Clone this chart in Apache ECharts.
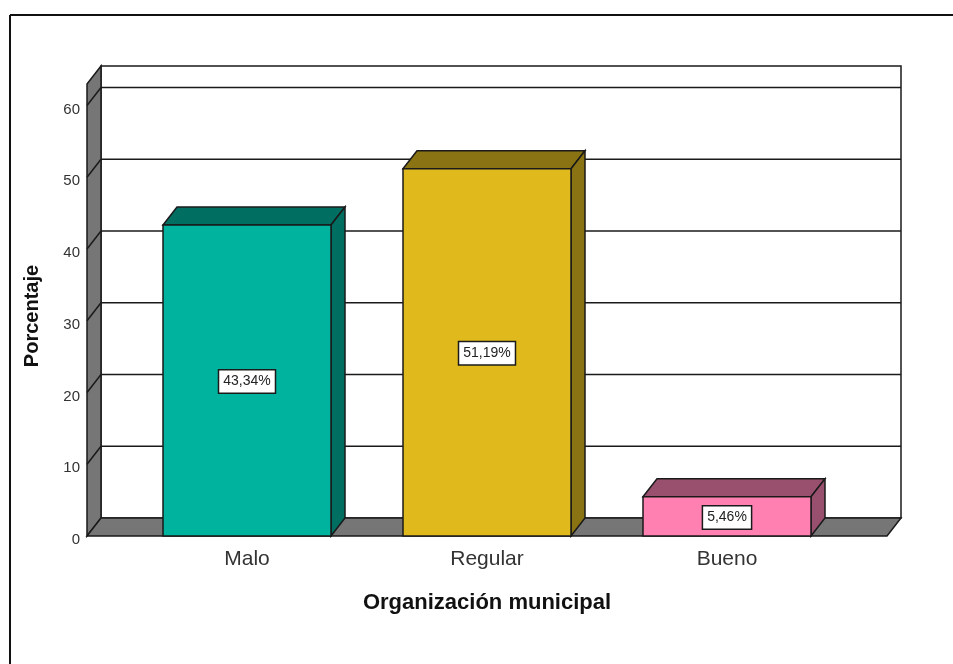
<!DOCTYPE html>
<html><head><meta charset="utf-8">
<style>html,body{margin:0;padding:0;background:#fff}#c{width:953px;height:664px}</style>
<script src="https://cdn.jsdelivr.net/npm/echarts@6/dist/echarts.min.js"></script>
</head><body><div id="c"></div>
<script>
const categories = ['Malo', 'Regular', 'Bueno'];
const values = [43.34, 51.19, 5.46];
const valueLabels = ['43,34%', '51,19%', '5,46%'];
const frontColors = ['#00B39E', '#E0BA1C', '#FF80B1'];
const darkColors = ['#006F62', '#8A7312', '#99506E'];
const yTicks = [0, 10, 20, 30, 40, 50, 60];
const yMax = 63;
const xAxisName = 'Organización municipal';
const yAxisName = 'Porcentaje';

const DX = 14, DY = 18, PAD = 40, BAR = 0.7;
const INK = '#1a1a1a', WALL = '#767676';
const chart = echarts.init(document.getElementById('c'));
const line = (x1, y1, x2, y2, w) => ({
  type: 'line', shape: {x1, y1, x2, y2},
  style: {stroke: INK, lineWidth: w || 1.5}
});
chart.setOption({
  animation: false,
  backgroundColor: '#fff',
  grid: {left: 127, right: 106, top: 84, bottom: 128},
  xAxis: {
    type: 'category', data: categories,
    axisLine: {show: false}, axisTick: {show: false},
    axisLabel: {margin: 13, fontFamily: 'Liberation Sans', fontSize: 21, color: '#333'},
    name: xAxisName, nameLocation: 'middle', nameGap: 56,
    nameTextStyle: {fontFamily: 'Liberation Sans', fontWeight: 'bold', fontSize: 22, color: '#111'}
  },
  yAxis: {
    type: 'value', min: 0, max: yMax, interval: 10,
    splitLine: {show: false}, axisLine: {show: false}, axisTick: {show: false},
    axisLabel: {margin: 47, showMaxLabel: false, fontFamily: 'Liberation Sans', fontSize: 15, color: '#333', verticalAlign: 'top', lineHeight: 8},
    name: yAxisName, nameLocation: 'middle', nameGap: 85, nameRotate: 90,
    nameTextStyle: {fontFamily: 'Liberation Sans', fontWeight: 'bold', fontSize: 20, color: '#111', padding: [0, 12, 0, 0]}
  },
  series: [
    { // walls and floor
      type: 'custom', z: 1, silent: true,
      data: [[categories[0], yMax]],
      renderItem(params, api) {
        const cs = params.coordSys;
        const x0 = cs.x - PAD, x1 = cs.x + cs.width + PAD;
        const yb = api.coord([categories[0], 0])[1], yt = api.coord([categories[0], api.value(1)])[1];
        const poly = (points, fill) => ({type: 'polygon', shape: {points}, style: {fill, stroke: INK, lineWidth: 1.5}});
        return {type: 'group', children: [
          poly([[x0 + DX, yt - DY], [x1 + DX, yt - DY], [x1 + DX, yb - DY], [x0 + DX, yb - DY]], '#fff'),
          poly([[x0, yt], [x0 + DX, yt - DY], [x0 + DX, yb - DY], [x0, yb]], WALL),
          poly([[x0, yb], [x0 + DX, yb - DY], [x1 + DX, yb - DY], [x1, yb]], WALL)
        ]};
      }
    },
    { // gridlines on the back and left walls
      type: 'custom', z: 2, silent: true,
      data: yTicks.filter(t => t > 0).map(t => [categories[0], t]),
      renderItem(params, api) {
        const cs = params.coordSys;
        const x0 = cs.x - PAD, x1 = cs.x + cs.width + PAD;
        const y = api.coord([categories[0], api.value(1)])[1];
        return {type: 'group', children: [
          line(x0, y, x0 + DX, y - DY),
          line(x0 + DX, y - DY, x1 + DX, y - DY)
        ]};
      }
    },
    { // bars
      type: 'custom', z: 3, silent: true,
      data: categories.map((c, i) => [c, values[i]]),
      renderItem(params, api) {
        const i = params.dataIndex;
        const p = api.coord([api.value(0), api.value(1)]);
        const b = api.coord([api.value(0), 0]);
        const w = api.size([1, 0])[0] * BAR;
        const l = p[0] - w / 2, r = p[0] + w / 2, t = p[1], bot = b[1];
        const st = fill => ({fill, stroke: INK, lineWidth: 1.5});
        return {type: 'group', children: [
          {type: 'polygon', shape: {points: [[l, t], [l + DX, t - DY], [r + DX, t - DY], [r, t]]}, style: st(darkColors[i])},
          {type: 'polygon', shape: {points: [[r, t], [r + DX, t - DY], [r + DX, bot - DY], [r, bot]]}, style: st(darkColors[i])},
          {type: 'rect', shape: {x: l, y: t, width: w, height: bot - t}, style: st(frontColors[i])},
          {type: 'text', x: p[0], y: (t + bot) / 2 + 1, style: {
            text: valueLabels[i], fill: '#222', font: '14px "Liberation Sans"',
            align: 'center', verticalAlign: 'middle',
            backgroundColor: '#fff', borderColor: INK, borderWidth: 1.5, padding: [4, 4]
          }}
        ]};
      }
    }
  ],
  graphic: [
    {type: 'line', shape: {x1: 10, y1: 15, x2: 953, y2: 15}, style: {stroke: '#111', lineWidth: 2}},
    {type: 'line', shape: {x1: 10, y1: 15, x2: 10, y2: 664}, style: {stroke: '#111', lineWidth: 2}}
  ]
});
</script></body></html>
